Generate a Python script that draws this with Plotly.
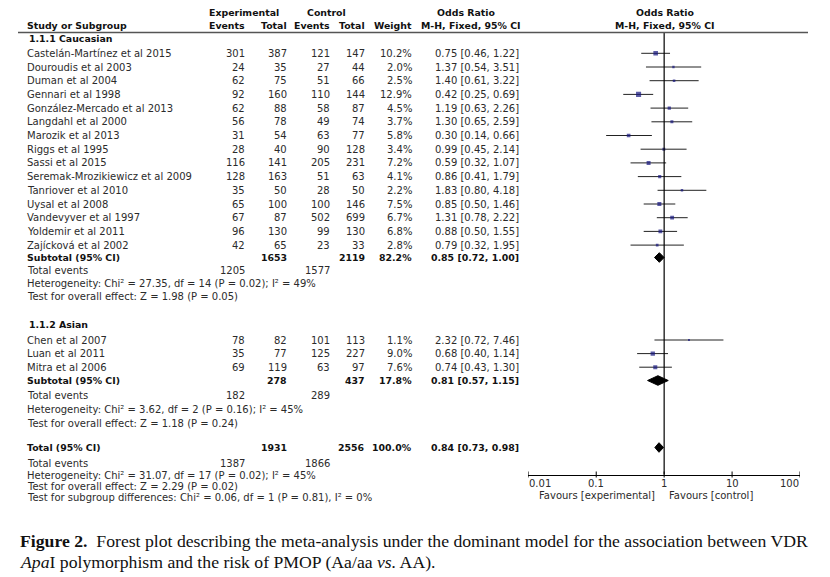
import math
import plotly.graph_objects as go

# ---------------- data ----------------
cauc_studies = ["Castelán-Martínez et al 2015", "Douroudis et al 2003", "Duman et al 2004",
                "Gennari et al 1998", "González-Mercado et al 2013", "Langdahl et al 2000",
                "Marozik et al 2013", "Riggs et al 1995", "Sassi et al 2015",
                "Seremak-Mrozikiewicz et al 2009", "Tanriover et al 2010", "Uysal et al 2008",
                "Vandevyver et al 1997", "Yoldemir et al 2011", "Zajícková et al 2002"]
cauc_exp_events = [301, 24, 62, 92, 62, 56, 31, 28, 116, 128, 35, 65, 67, 96, 42]
cauc_exp_total = [387, 35, 75, 160, 88, 78, 54, 40, 141, 163, 50, 100, 87, 130, 65]
cauc_ctl_events = [121, 27, 51, 110, 58, 49, 63, 90, 205, 51, 28, 100, 502, 99, 23]
cauc_ctl_total = [147, 44, 66, 144, 87, 74, 77, 128, 231, 63, 50, 146, 699, 130, 33]
cauc_weight = [10.2, 2.0, 2.5, 12.9, 4.5, 3.7, 5.8, 3.4, 7.2, 4.1, 2.2, 7.5, 6.7, 6.8, 2.8]
cauc_or = [0.75, 1.37, 1.40, 0.42, 1.19, 1.30, 0.30, 0.99, 0.59, 0.86, 1.83, 0.85, 1.31, 0.88, 0.79]
cauc_lo = [0.46, 0.54, 0.61, 0.25, 0.63, 0.65, 0.14, 0.45, 0.32, 0.41, 0.80, 0.50, 0.78, 0.50, 0.32]
cauc_hi = [1.22, 3.51, 3.22, 0.69, 2.26, 2.59, 0.66, 2.14, 1.07, 1.79, 4.18, 1.46, 2.22, 1.55, 1.95]

asian_studies = ["Chen et al 2007", "Luan et al 2011", "Mitra et al 2006"]
asian_exp_events = [78, 35, 69]
asian_exp_total = [82, 77, 119]
asian_ctl_events = [101, 125, 63]
asian_ctl_total = [113, 227, 97]
asian_weight = [1.1, 9.0, 7.6]
asian_or = [2.32, 0.68, 0.74]
asian_lo = [0.72, 0.40, 0.43]
asian_hi = [7.46, 1.14, 1.30]

# subtotal / total: [exp_total, ctl_total, weight, or, lo, hi, exp_events, ctl_events]
cauc_sub = [1653, 2119, 82.2, 0.85, 0.72, 1.00, 1205, 1577]
asian_sub = [278, 437, 17.8, 0.81, 0.57, 1.15, 182, 289]
overall = [1931, 2556, 100.0, 0.84, 0.73, 0.98, 1387, 1866]

cauc_het = "Heterogeneity: Chi² = 27.35, df = 14 (P = 0.02); I² = 49%"
cauc_test = "Test for overall effect: Z = 1.98 (P = 0.05)"
asian_het = "Heterogeneity: Chi² = 3.62, df = 2 (P = 0.16); I² = 45%"
asian_test = "Test for overall effect: Z = 1.18 (P = 0.24)"
total_het = "Heterogeneity: Chi² = 31.07, df = 17 (P = 0.02); I² = 45%"
total_test = "Test for overall effect: Z = 2.29 (P = 0.02)"
subgroup_test = "Test for subgroup differences: Chi² = 0.06, df = 1 (P = 0.81), I² = 0%"

tick_vals = [0.01, 0.1, 1, 10, 100]
tick_text = ["0.01", "0.1", "1", "10", "100"]

# ---------------- layout helpers ----------------
W, H = 830, 577
FONT = "DejaVu Sans"
TXT = "#2b2b2b"
BOX = "#16167f"
fig = go.Figure()
ann = []


def text(x, y, s, anchor="left", bold=False, size=10, color=TXT, font=FONT):
    if bold:
        s = "<b>" + s + "</b>"
        size = size if size != 10 else 9.4
        color = "#111111"
    ann.append(dict(x=x / W, y=1 - y / H, xref="paper", yref="paper", text=s,
                    xanchor=anchor, yanchor="middle", showarrow=False, borderpad=0,
                    font=dict(family=font, size=size, color=color)))


X_NAME, X_EE, X_ET, X_CE, X_CT, X_W, X_OR = 26, 245.5, 287.5, 330.5, 366, 412.5, 519.5
AXIS_Y = 474.5

# headers
text(244, 12.3, "Experimental", "center", True)
text(326.5, 12.3, "Control", "center", True)
text(466, 12.3, "Odds Ratio", "center", True)
text(664.5, 12.3, "Odds Ratio", "center", True)
text(X_NAME, 25.7, "Study or Subgroup", "left", True)
for x, s in [(X_EE, "Events"), (X_ET, "Total"), (X_CE, "Events"), (X_CT, "Total"), (X_W, "Weight")]:
    text(x, 25.7, s, "right", True)
text(470.5, 25.7, "M-H, Fixed, 95% CI", "center", True)
text(665, 25.7, "M-H, Fixed, 95% CI", "center", True)


def fmt_or(o, l, h):
    return f"{o:.2f} [{l:.2f}, {h:.2f}]"


def study_block(names, ee, et, ce, ct, w, o, lo, hi, y0, step):
    ys = []
    for i, n in enumerate(names):
        y = y0 + step * i
        ys.append(y)
        text(X_NAME, y, n)
        text(X_EE, y, str(ee[i]), "right")
        text(X_ET, y, str(et[i]), "right")
        text(X_CE, y, str(ce[i]), "right")
        text(X_CT, y, str(ct[i]), "right")
        text(X_W, y, f"{w[i]:.1f}%", "right")
        text(X_OR, y, fmt_or(o[i], lo[i], hi[i]), "right")
    # CI lines
    lx, ly = [], []
    for i, y in enumerate(ys):
        lx += [lo[i], hi[i], None]
        ly += [y, y, None]
    fig.add_trace(go.Scatter(x=lx, y=ly, mode="lines", line=dict(color="#222222", width=1),
                             hoverinfo="skip", showlegend=False))
    fig.add_trace(go.Scatter(x=o, y=ys, mode="markers",
                             marker=dict(symbol="square", color=BOX,
                                         size=[1.25 * math.sqrt(v) + 0.6 for v in w],
                                         line=dict(width=0)),
                             showlegend=False))


def diamond(s, y, half=4.8):
    o, l, h = s[3], s[4], s[5]
    fig.add_trace(go.Scatter(x=[l, o, h, o, l], y=[y, y - half, y, y + half, y],
                             mode="lines", fill="toself", fillcolor="black",
                             line=dict(color="black", width=1), showlegend=False))


def summary_rows(label, s, y, ye, yh, yt, het, test):
    text(X_NAME, y, label, "left", True)
    text(X_ET, y, str(s[0]), "right", True)
    text(X_CT, y, str(s[1]), "right", True)
    text(X_W, y, f"{s[2]:.1f}%", "right", True)
    text(X_OR, y, fmt_or(s[3], s[4], s[5]), "right", True)
    diamond(s, y)
    text(X_NAME, ye, "Total events")
    text(X_EE, ye, str(s[6]), "right")
    text(X_CE, ye, str(s[7]), "right")
    text(X_NAME, yh, het)
    text(X_NAME, yt, test)


# Caucasian
text(X_NAME + 1.5, 39, "1.1.1 Caucasian", "left", True)
study_block(cauc_studies, cauc_exp_events, cauc_exp_total, cauc_ctl_events, cauc_ctl_total,
            cauc_weight, cauc_or, cauc_lo, cauc_hi, 53.3, 13.7)
summary_rows("Subtotal (95% CI)", cauc_sub, 257.5, 270.3, 283.5, 296.8, cauc_het, cauc_test)

# Asian
text(X_NAME + 1.5, 324.5, "1.1.2 Asian", "left", True)
study_block(asian_studies, asian_exp_events, asian_exp_total, asian_ctl_events, asian_ctl_total,
            asian_weight, asian_or, asian_lo, asian_hi, 340, 13.6)
summary_rows("Subtotal (95% CI)", asian_sub, 380.5, 395, 409.3, 423.3, asian_het, asian_test)

# Overall
summary_rows("Total (95% CI)", overall, 447.5, 463.3, 475.3, 486.8, total_het, total_test)
text(X_NAME, 497.8, subgroup_test)

# line of no effect
fig.add_trace(go.Scatter(x=[1, 1], y=[33, AXIS_Y], mode="lines",
                         line=dict(color="black", width=1.2), hoverinfo="skip", showlegend=False))
# crossing tick marks
tx, ty = [], []
for v in tick_vals:
    tx += [v, v, None]
    ty += [AXIS_Y - 3, AXIS_Y + 3, None]
fig.add_trace(go.Scatter(x=tx, y=ty, mode="lines", line=dict(color="black", width=1),
                         hoverinfo="skip", showlegend=False))
# tick labels
for i, (v, s) in enumerate(zip(tick_vals, tick_text)):
    anchor = "left" if i == 0 else ("right" if i == len(tick_vals) - 1 else "center")
    ann.append(dict(x=math.log10(v), y=483.5, xref="x", yref="y", text=s, showarrow=False,
                    xanchor=anchor, yanchor="middle", borderpad=0,
                    font=dict(family=FONT, size=10, color=TXT)))
ann.append(dict(x=math.log10(1), y=495, xref="x", yref="y", xshift=-8,
                text="Favours [experimental]", showarrow=False, xanchor="right",
                yanchor="middle", borderpad=0, font=dict(family=FONT, size=10, color=TXT)))
ann.append(dict(x=math.log10(1), y=495, xref="x", yref="y", xshift=4,
                text="Favours [control]", showarrow=False, xanchor="left",
                yanchor="middle", borderpad=0, font=dict(family=FONT, size=10, color=TXT)))

# caption
CAP = "Liberation Serif"
ann.append(dict(x=19 / W, y=1 - 540.5 / H, xref="paper", yref="paper", showarrow=False,
                xanchor="left", yanchor="middle", borderpad=0,
                text="<b>Figure 2.</b>\u00a0\u00a0Forest plot describing the meta-analysis under the dominant model for the association between VDR",
                font=dict(family=CAP, size=17.7, color="#111111")))
ann.append(dict(x=19 / W, y=1 - 561.5 / H, xref="paper", yref="paper", showarrow=False,
                xanchor="left", yanchor="middle", borderpad=0,
                text="<i>Apa</i>I polymorphism and the risk of PMOP (Aa/aa <i>vs.</i> AA).",
                font=dict(family=CAP, size=17.7, color="#111111")))

fig.update_layout(
    width=W, height=H, margin=dict(l=0, r=0, t=0, b=0),
    paper_bgcolor="white", plot_bgcolor="white",
    annotations=ann,
    shapes=[dict(type="line", xref="paper", yref="paper", x0=18 / W, x1=808 / W,
                 y0=1 - 32.5 / H, y1=1 - 32.5 / H, line=dict(color="#555555", width=1.5))],
    xaxis=dict(type="log", range=[-2, 2], domain=[528.3 / W, 800 / W], anchor="free",
               position=1 - AXIS_Y / H, showline=True, linecolor="black", linewidth=1,
               ticks="", showticklabels=False, showgrid=False, zeroline=False),
    yaxis=dict(range=[H, 0], domain=[0, 1], visible=False, showgrid=False, zeroline=False),
)

fig.write_html("out.html", config={"displayModeBar": False},
               post_script="document.body.style.margin='0';document.body.style.overflow='hidden';")
